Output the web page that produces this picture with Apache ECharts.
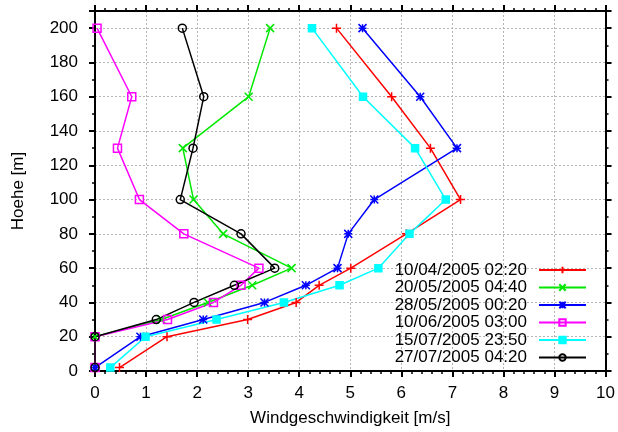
<!DOCTYPE html>
<html>
<head>
<meta charset="utf-8">
<script src="https://cdn.jsdelivr.net/npm/echarts@6/dist/echarts.min.js"></script>
<style>
html,body{margin:0;padding:0;background:#fff;}
#chart{width:618px;height:432px;}
</style>
</head>
<body>
<div id="chart"></div>
<script>
// Data
const heights = [2, 20, 30, 40, 50, 60, 80, 100, 130, 160, 200];
const seriesNames = [
  '10/04/2005 02:20',
  '20/05/2005 04:40',
  '28/05/2005 00:20',
  '10/06/2005 03:00',
  '15/07/2005 23:50',
  '27/07/2005 04:20'
];
const speed_20050410 = [0.48, 1.41, 2.99, 3.94, 4.39, 5.01, 6.1, 7.16, 6.57, 5.81, 4.73];
const speed_20050520 = [0, 0, 1.3, 2.21, 3.08, 3.85, 2.51, 1.93, 1.72, 3.01, 3.43];
const speed_20050528 = [0, 0.89, 2.12, 3.32, 4.13, 4.75, 4.96, 5.47, 7.09, 6.37, 5.24];
const speed_20050610 = [0, 0, 1.42, 2.32, 2.86, 3.21, 1.74, 0.87, 0.44, 0.72, 0.04];
const speed_20050715 = [0.3, 0.99, 2.38, 3.7, 4.79, 5.55, 6.16, 6.87, 6.27, 5.25, 4.25];
const speed_20050727 = [0, 0, 1.2, 1.94, 2.73, 3.52, 2.86, 1.67, 1.92, 2.13, 1.71];
const xTicks = [0, 1, 2, 3, 4, 5, 6, 7, 8, 9, 10];
const yTicks = [0, 20, 40, 60, 80, 100, 120, 140, 160, 180, 200];

const allSpeeds = [speed_20050410, speed_20050520, speed_20050528, speed_20050610, speed_20050715, speed_20050727];
const colors = ['#ff0000', '#00e800', '#0000ff', '#ff00ff', '#00ffff', '#000000'];
const symbols = [
  'path://M0,-1L0,1M-1,0L1,0',
  'path://M-1,-1L1,1M-1,1L1,-1',
  'path://M-1,0L1,0M0,-1L0,1M-1,-1L1,1M-1,1L1,-1',
  'path://M-1,-1L1,-1L1,1L-1,1Z',
  'rect',
  'circle'
];
const symbolSizes = [9, 8, 8, 8, 7, 8];
const fills = ['rgba(0,0,0,0)', 'rgba(0,0,0,0)', 'rgba(0,0,0,0)', 'rgba(0,0,0,0)', '#00ffff', 'rgba(0,0,0,0)'];

const FONT = 'Liberation Sans, Arial, Helvetica, sans-serif';

const series = allSpeeds.map((arr, i) => ({
  name: seriesNames[i],
  type: 'line',
  xAxisIndex: 0,
  yAxisIndex: 0,
  data: heights.map((h, j) => [arr[j], h]),
  symbol: symbols[i],
  symbolSize: symbolSizes[i],
  symbolKeepAspect: true,
  showSymbol: true,
  animation: false,
  lineStyle: { color: colors[i], width: 1.5 },
  itemStyle: { color: fills[i], borderColor: colors[i], borderWidth: 1.5, opacity: 1 },
  emphasis: { disabled: true }
}));

const axisLineStyle = { show: true, onZero: false, lineStyle: { color: '#000', width: 2 } };
const tickStyle = { show: true, inside: false, length: 6, lineStyle: { color: '#000', width: 2 } };
const minorTickStyle = { show: true, length: 3, lineStyle: { color: '#000', width: 1.5 } };
const gridLine = { show: true, lineStyle: { color: '#b4b4b4', width: 1, type: [2, 2] } };

const option = {
  backgroundColor: '#ffffff',
  animation: false,
  textStyle: { fontFamily: FONT },
  grid: { left: 95, right: 11, top: 11, bottom: 60, containLabel: false },
  xAxis: [
    {
      type: 'value', position: 'bottom', min: xTicks[0], max: xTicks[xTicks.length - 1], interval: 1,
      name: 'Windgeschwindigkeit [m/s]', nameLocation: 'middle', nameGap: 39,
      nameTextStyle: { fontSize: 17, color: '#000', fontFamily: FONT },
      axisLine: axisLineStyle, axisTick: tickStyle,
      minorTick: Object.assign({ splitNumber: 5 }, minorTickStyle),
      axisLabel: { fontSize: 17, color: '#000', margin: 14, fontFamily: FONT },
      splitLine: gridLine
    },
    {
      type: 'value', position: 'top', min: xTicks[0], max: xTicks[xTicks.length - 1], interval: 1,
      axisLine: axisLineStyle, axisTick: tickStyle,
      minorTick: Object.assign({ splitNumber: 5 }, minorTickStyle),
      axisLabel: { show: false }, splitLine: { show: false }
    }
  ],
  yAxis: [
    {
      type: 'value', position: 'left', min: 0, max: 210, interval: 20,
      name: 'Hoehe [m]', nameLocation: 'middle', nameGap: 68, nameRotate: 90,
      nameTextStyle: { fontSize: 17, color: '#000', fontFamily: FONT },
      axisLine: axisLineStyle, axisTick: tickStyle,
      minorTick: Object.assign({ splitNumber: 2 }, minorTickStyle),
      axisLabel: { fontSize: 17, color: '#000', margin: 17, fontFamily: FONT, showMaxLabel: false,
        formatter: v => (yTicks.indexOf(v) >= 0 ? String(v) : '') },
      splitLine: gridLine
    },
    {
      type: 'value', position: 'right', min: 0, max: 210, interval: 20,
      axisLine: axisLineStyle, axisTick: tickStyle,
      minorTick: Object.assign({ splitNumber: 2 }, minorTickStyle),
      axisLabel: { show: false }, splitLine: { show: false }
    }
  ],
  legend: {
    data: seriesNames,
    orient: 'vertical',
    align: 'right',
    right: 31,
    top: 261.5,
    padding: 0,
    itemWidth: 47,
    itemHeight: 8,
    itemGap: 0.5,
    selectedMode: false,
    textStyle: { fontSize: 17, lineHeight: 17, color: '#000', fontFamily: FONT, padding: [0, 7, 0, 0] }
  },
  series: series
};

const chart = echarts.init(document.getElementById('chart'), null, { renderer: 'canvas' });
chart.setOption(option);
</script>
</body>
</html>
